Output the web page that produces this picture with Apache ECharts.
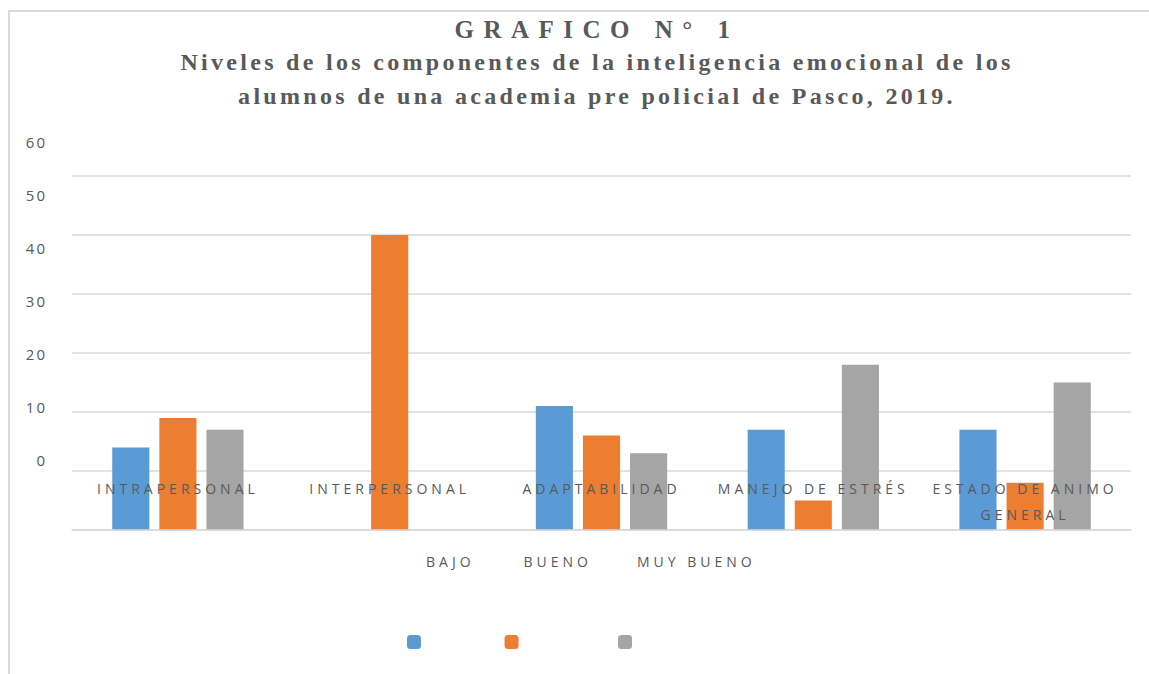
<!DOCTYPE html>
<html>
<head>
<meta charset="utf-8">
<script src="https://cdn.jsdelivr.net/npm/echarts@6/dist/echarts.min.js"></script>
<style>
    body { margin: 0; background: #fff; }
    #frame { position: absolute; left: 8px; top: 10px; width: 1141px; height: 664px;
             border-left: 2px solid #d9d9d9; border-top: 2px solid #d9d9d9; box-sizing: border-box; }
    #chart-container { position: absolute; left: 0; top: 0; width: 1149px; height: 674px; }
    /* excel style letter spacing, per font size */
    #chart-container text[style*="25px"] { letter-spacing: 9.5px; }
    #chart-container text[style*="24px"] { letter-spacing: 3.3px; }
    #chart-container text[style*="15px"] { letter-spacing: 2px; }
    #chart-container text[style*="14px"] { letter-spacing: 4px; }
</style>
</head>
<body>
<div id="frame"></div>
<div id="chart-container"></div>
<script>
var TITLE='GRAFICO N° 1';
var SUBTITLE='Niveles de los componentes de la inteligencia emocional de los\nalumnos de una academia pre policial de Pasco, 2019.';
var categories=['INTRAPERSONAL','INTERPERSONAL','ADAPTABILIDAD','MANEJO DE ESTRÉS','ESTADO DE ANIMO GENERAL'];
var seriesNames=['BAJO','BUENO','MUY BUENO'];
var bajo=[14,0,21,17,17];
var bueno=[19,50,16,5,8];
var muyBueno=[17,0,13,28,25];
var yTickLabels=['0','10','20','30','40','50','60'];
var colors=['#5b9bd5','#ed7d31','#a5a5a5'];
var textColor='#595959';

var myChart=echarts.init(document.getElementById('chart-container'),null,{renderer:'svg'});

var option={
    color:colors,
    animation:false,
    title:{
        text:TITLE,
        subtext:SUBTITLE,
        left:592,
        textAlign:'center',
        top:12,
        itemGap:3,
        textStyle:{
            color:textColor,
            fontFamily:'Liberation Serif',
            fontWeight:'bold',
            fontSize:25
        },
        subtextStyle:{
            color:textColor,
            fontFamily:'Liberation Serif',
            fontWeight:'bold',
            fontSize:24,
            lineHeight:34
        }
    },
    legend:{
        data:seriesNames,
        left:402,
        top:549,
        itemWidth:14,
        itemHeight:14,
        itemGap:46,
        formatter:'{a|{name}}',
        textStyle:{
            color:textColor,
            fontFamily:'Open Sans',
            fontSize:14,
            rich:{
                a:{
                    fontFamily:'Open Sans',
                    fontSize:14,
                    color:textColor,
                    lineHeight:16,
                    padding:[0,0,162,0]
                }
            }
        }
    },
    grid:[
        {left:72,right:18,top:176,bottom:144},
        // only there to carry the (shifted) y tick labels
        {left:55,width:10,top:142,height:318}
    ],
    xAxis:[
        {
            type:'category',
            data:categories,
            z:10,
            axisTick:{show:false},
            axisLine:{lineStyle:{color:'#d9d9d9',width:1.5}},
            axisLabel:{
                interval:0,
                margin:-55,
                color:textColor,
                fontFamily:'Open Sans',
                fontSize:14,
                lineHeight:26,
                formatter:function (name) {
                    if(name.length>16){
                        var i=name.lastIndexOf(' ');
                        return name.slice(0,i)+'\n'+name.slice(i+1);
                    }
                    return name;
                }
            }
        },
        {type:'value',gridIndex:1,show:false}
    ],
    yAxis:[
        {
            type:'value',
            min:0,
            max:60,
            interval:10,
            axisLabel:{show:false},
            axisLine:{show:false},
            axisTick:{show:false},
            splitLine:{lineStyle:{color:'#d9d9d9',width:1.5}}
        },
        {
            type:'value',
            gridIndex:1,
            min:0,
            max:60,
            interval:10,
            axisLine:{show:false},
            axisTick:{show:false},
            splitLine:{show:false},
            axisLabel:{
                margin:8,
                color:textColor,
                fontFamily:'Open Sans',
                fontSize:15,
                formatter:function (v) {
                    return yTickLabels[Math.round(v/10)];
                }
            }
        }
    ],
    series:[
        {name:seriesNames[0],type:'bar',barGap:'27%',barCategoryGap:'38%',data:bajo},
        {name:seriesNames[1],type:'bar',barGap:'27%',barCategoryGap:'38%',data:bueno},
        {name:seriesNames[2],type:'bar',barGap:'27%',barCategoryGap:'38%',data:muyBueno}
    ]
};
myChart.setOption(option);
</script>
</body>
</html>
